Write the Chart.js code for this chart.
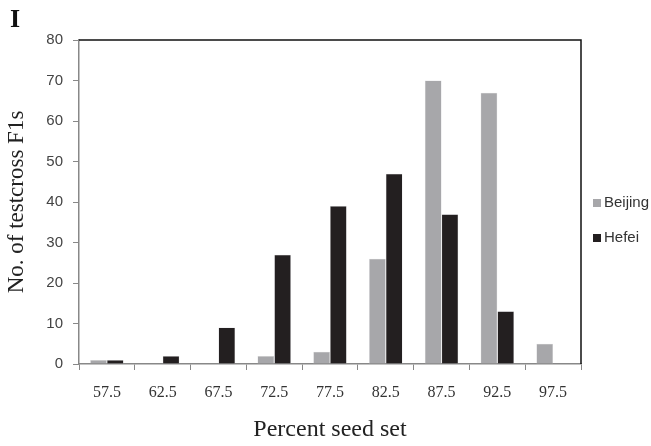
<!DOCTYPE html>
<html><head><meta charset="utf-8">
<script src="https://cdn.jsdelivr.net/npm/chart.js@4.4.0/dist/chart.umd.min.js"></script>
<style>html,body{margin:0;padding:0;background:#fff}#wrap{width:651px;height:446px}</style>
</head><body><div id="wrap"><canvas id="c" width="651" height="446"></canvas></div>
<script>
const categories = ['57.5','62.5','67.5','72.5','77.5','82.5','87.5','92.5','97.5'];
const beijing = [1, 0, 0, 2, 3, 26, 70, 67, 5];
const hefei   = [1, 2, 9, 27, 39, 47, 37, 13, 0];
const yTicks = [0,10,20,30,40,50,60,70,80];

const framePlugin = {
  id: 'frame',
  afterDraw(chart) {
    const {ctx, chartArea: a} = chart;
    ctx.save();
    ctx.strokeStyle = '#111';
    ctx.lineWidth = 1.5;
    ctx.beginPath();
    ctx.moveTo(a.left, a.top); ctx.lineTo(a.right, a.top); ctx.lineTo(a.right, a.bottom);
    ctx.stroke();
    // panel letter
    ctx.fillStyle = '#111';
    ctx.font = 'bold 26px "Liberation Serif"';
    ctx.textBaseline = 'alphabetic';
    ctx.textAlign = 'left';
    ctx.fillText('I', 10, 27);
    // legend
    ctx.font = '15px "Liberation Sans"';
    ctx.textBaseline = 'middle';
    const ys = [203, 238];
    chart.data.datasets.forEach((ds, i) => {
      const y = ys[i];
      ctx.fillStyle = ds.backgroundColor;
      ctx.fillRect(593, y - 4, 8, 8);
      ctx.fillStyle = '#333';
      ctx.fillText(ds.label, 604, y);
    });
    ctx.restore();
  }
};

new Chart(document.getElementById('c'), {
  type: 'bar',
  data: {
    labels: categories,
    datasets: [
      {label: 'Beijing', data: beijing, backgroundColor: '#a7a7aa', borderColor: '#d8d8da', borderWidth: 0.5, categoryPercentage: 0.6, barPercentage: 1.0},
      {label: 'Hefei', data: hefei, backgroundColor: '#231f20', borderColor: '#d8d8da', borderWidth: 0.5, categoryPercentage: 0.6, barPercentage: 1.0}
    ]
  },
  options: {
    responsive: false,
    animation: false,
    devicePixelRatio: 1,
    layout: {padding: {left: 0, top: 40, right: 70, bottom: 0}},
    plugins: {
      legend: {display: false},
      tooltip: {enabled: false}
    },
    scales: {
      x: {
        offset: true,
        afterFit(s) { s.height = 82; },
        grid: {offset: true, drawOnChartArea: false, drawTicks: true, tickLength: 6, color: '#888'},
        border: {color: '#888', width: 1.5},
        ticks: {color: '#333', font: {family: '"Liberation Serif"', size: 16}, padding: 13, maxRotation: 0},
        title: {display: true, text: 'Percent seed set', color: '#222', font: {family: '"Liberation Serif"', size: 24}, padding: {top: 12, bottom: 2}}
      },
      y: {
        min: 0, max: 80,
        afterBuildTicks(s) { s.ticks = yTicks.map(v => ({value: v})); },
        afterFit(s) { s.width = 79; },
        grid: {drawOnChartArea: false, drawTicks: true, tickLength: 6, color: '#888'},
        border: {color: '#888', width: 1.5},
        ticks: {color: '#444', font: {family: '"Liberation Sans"', size: 15}, padding: 10},
        title: {display: true, text: 'No. of testcross F1s', color: '#222', font: {family: '"Liberation Serif"', size: 23}, padding: {top: 3, bottom: 6}}
      }
    }
  },
  plugins: [framePlugin]
});
</script>
</body></html>
